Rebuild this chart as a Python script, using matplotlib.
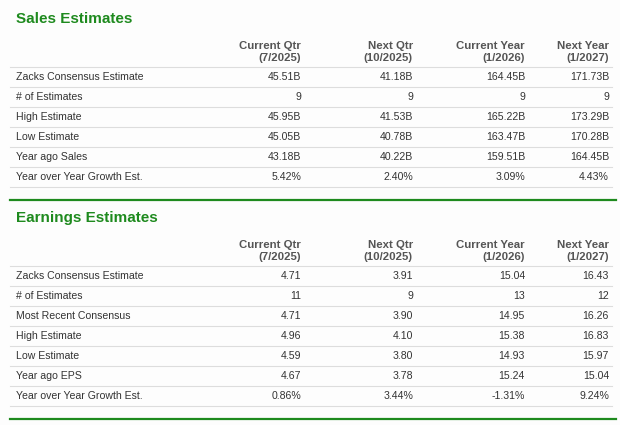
import matplotlib
matplotlib.use("Agg")
import matplotlib.pyplot as plt
from matplotlib.lines import Line2D

W, H = 620, 425
col_titles = ["Current Qtr", "Next Qtr", "Current Year", "Next Year"]
col_dates = ["(7/2025)", "(10/2025)", "(1/2026)", "(1/2027)"]

sales_labels = ["Zacks Consensus Estimate", "# of Estimates", "High Estimate",
                "Low Estimate", "Year ago Sales", "Year over Year Growth Est."]
sales_cur_qtr = ["45.51B", "9", "45.95B", "45.05B", "43.18B", "5.42%"]
sales_next_qtr = ["41.18B", "9", "41.53B", "40.78B", "40.22B", "2.40%"]
sales_cur_year = ["164.45B", "9", "165.22B", "163.47B", "159.51B", "3.09%"]
sales_next_year = ["171.73B", "9", "173.29B", "170.28B", "164.45B", "4.43%"]

eps_labels = ["Zacks Consensus Estimate", "# of Estimates", "Most Recent Consensus",
              "High Estimate", "Low Estimate", "Year ago EPS", "Year over Year Growth Est."]
eps_cur_qtr = ["4.71", "11", "4.71", "4.96", "4.59", "4.67", "0.86%"]
eps_next_qtr = ["3.91", "9", "3.90", "4.10", "3.80", "3.78", "3.44%"]
eps_cur_year = ["15.04", "13", "14.95", "15.38", "14.93", "15.24", "-1.31%"]
eps_next_year = ["16.43", "12", "16.26", "16.83", "15.97", "15.04", "9.24%"]

fig = plt.figure(figsize=(W/100, H/100), dpi=100)
fig.patch.set_facecolor("#fdfdfd")
plt.rcParams["font.family"] = "Liberation Sans"

def fx(x): return x / W
def fy(y): return 1 - y / H

def hline(y, x0, x1, color, lw):
    fig.add_artist(Line2D([fx(x0), fx(x1)], [fy(y), fy(y)], color=color, lw=lw))

col_right = [301, 413, 525, 609]
GREEN = "#1e8a1e"

def section(title, top, labels, cols):
    fig.text(fx(16), fy(top), title, fontsize=11, fontweight="bold", color=GREEN, va="center")
    for i, cx in enumerate(col_right):
        fig.text(fx(cx), fy(top + 27), col_titles[i], fontsize=8.2, fontweight="bold",
                 color="#555555", ha="right", va="center")
        fig.text(fx(cx), fy(top + 39), col_dates[i], fontsize=8.2, fontweight="bold",
                 color="#555555", ha="right", va="center")
    y0 = top + 48
    hline(y0, 10, 612, "#dddddd", 0.8)
    for r, lab in enumerate(labels):
        yc = y0 + 10 + 20 * r
        fig.text(fx(16), fy(yc), lab, fontsize=7.6, color="#333333", va="center")
        for c, cx in enumerate(col_right):
            fig.text(fx(cx), fy(yc), cols[c][r], fontsize=7.6, color="#333333",
                     ha="right", va="center")
        hline(y0 + 20 * (r + 1), 10, 612, "#dddddd", 0.8)
    return y0 + 20 * len(labels)

section("Sales Estimates", 19, sales_labels,
        [sales_cur_qtr, sales_next_qtr, sales_cur_year, sales_next_year])
hline(200, 10, 616, GREEN, 1.6)
section("Earnings Estimates", 218, eps_labels,
        [eps_cur_qtr, eps_next_qtr, eps_cur_year, eps_next_year])
hline(419, 10, 616, GREEN, 1.6)

fig.savefig("out.png", dpi=100, facecolor=fig.get_facecolor())
